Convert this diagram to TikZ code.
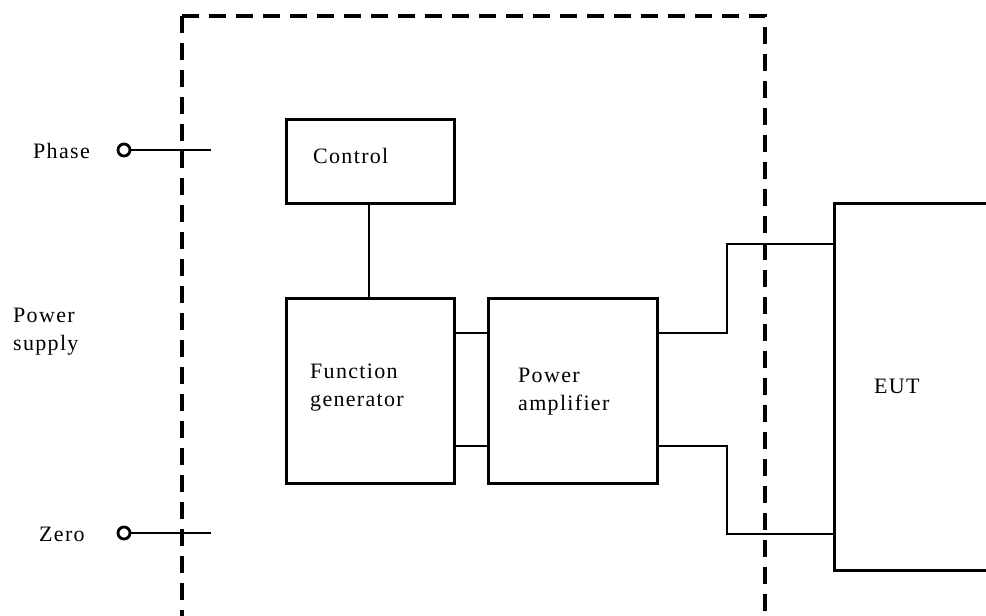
\documentclass[tikz,border=0pt]{standalone}
\usepackage{fontspec}
\setmainfont{Liberation Serif}[LetterSpace=6]
\begin{document}
\begin{tikzpicture}[x=1pt,y=-1pt,
  blk/.style={draw,line width=2.8pt,anchor=north west,inner sep=0pt},
  wire/.style={line width=2.6pt},
  bnd/.style={line width=3.3pt,dash pattern=on 17pt off 10pt},
  term/.style={circle,draw,line width=2.8pt,minimum size=12pt,inner sep=0pt,fill=white},
  lbl/.style={inner sep=0pt,font=\fontsize{22}{28}\selectfont,align=left}]
\useasboundingbox (0,0) rectangle (986,616);
\clip (0,0) rectangle (986,616);
% boxes
\node[blk,minimum width=168pt,minimum height=84pt] (ctrl) at (285,118) {};
\node[blk,minimum width=168pt,minimum height=185pt] (fg) at (285,297) {};
\node[blk,minimum width=169pt,minimum height=185pt] (pa) at (487,297) {};
\node[blk,minimum width=200pt,minimum height=367pt] (eut) at (833,202) {};
% labels
\node[lbl,anchor=base west] (tctrl) at (313,163) {Control};
\node[lbl,anchor=north west] (tfg) at (310,364) {Function\\generator};
\node[lbl,anchor=north west] (tpa) at (518,368) {Power\\amplifier};
\node[lbl,anchor=base west] (teut) at (874,393) {EUT};
\node[lbl,anchor=base west] (tph) at (33,158) {Phase};
\node[lbl,anchor=base west] (tze) at (39,541) {Zero};
\node[lbl,anchor=north west] (tps) at (13,308) {Power\\supply};
% dashed enclosure
\coordinate (dtl) at (182,16);
\coordinate (dtr) at (765,16);
\coordinate (dbl) at (182,630);
\coordinate (dbr) at (765,630);
\draw[bnd] (dtl) -- (dbl);
\draw[bnd] (dtl) -- (dtr) -- (dbr);
% terminals
\coordinate (phe) at (211,150);
\coordinate (zee) at (211,533);
\draw[wire] (124,150) -- (phe);
\draw[wire] (124,533) -- (zee);
\node[term] (ph) at (124,150) {};
\node[term] (ze) at (124,533) {};
% internal connections
\draw[wire] (ctrl.south -| 369,0) -- (fg.north -| 369,0);
\draw[wire] (fg.east |- 0,333) -- (pa.west |- 0,333);
\draw[wire] (fg.east |- 0,446) -- (pa.west |- 0,446);
\draw[wire] (pa.east |- 0,333) -- (727,333) -- (727,244) -- (eut.west |- 0,244);
\draw[wire] (pa.east |- 0,446) -- (727,446) -- (727,534) -- (eut.west |- 0,534);
\end{tikzpicture}
\end{document}
